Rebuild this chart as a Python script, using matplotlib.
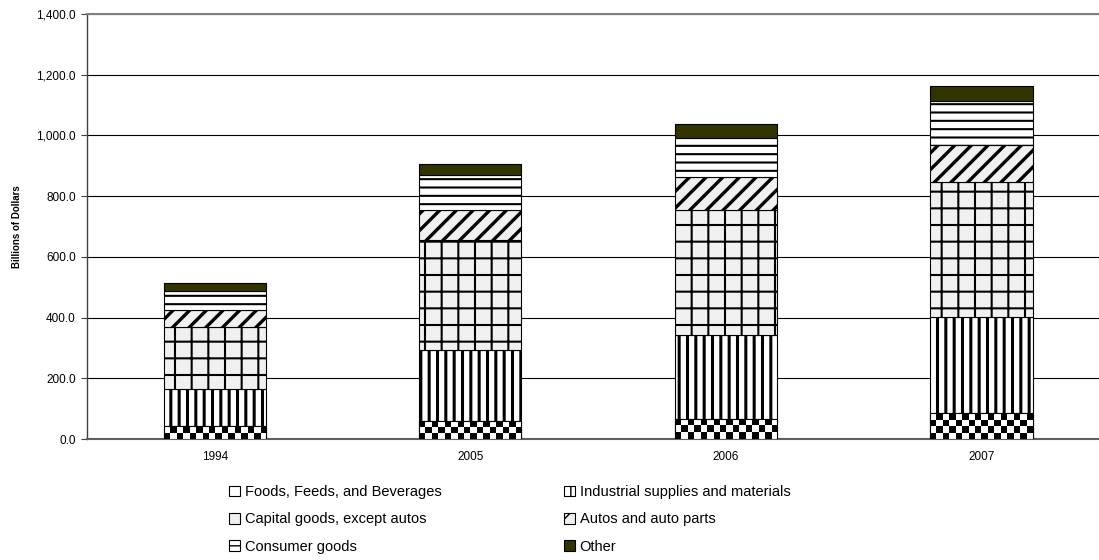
import numpy as np
import matplotlib
matplotlib.use("Agg")
import matplotlib.pyplot as plt
from matplotlib.ticker import FuncFormatter, MultipleLocator

plt.rcParams['font.family'] = ['Liberation Sans', 'DejaVu Sans']

# data (billions of dollars)
years = ["1994", "2005", "2006", "2007"]
foods = [42.0, 59.0, 66.0, 84.3]
industrial = [121.4, 233.0, 276.0, 316.4]
capital = [205.0, 362.9, 413.9, 447.0]
autos = [57.8, 98.4, 107.3, 121.3]
consumer = [60.0, 115.3, 129.1, 146.0]
other = [27.8, 38.4, 44.5, 48.0]

labels = ["Foods, Feeds, and Beverages", "Industrial supplies and materials",
          "Capital goods, except autos", "Autos and auto parts",
          "Consumer goods", "Other"]
series = [foods, industrial, capital, autos, consumer, other]

# style per series: facecolor, hatch, hatch linewidth
styles = [
    ("white", None, 1.0),
    ("white", "||", 2.2),
    ("#f0f0f0", "+", 1.5),
    ("#f0f0f0", "//", 2.4),
    ("white", "--", 1.5),
    ("#333300", None, 1.0),
]

W, H, DPI = 10.99, 5.60, 100
fig = plt.figure(figsize=(W, H), dpi=DPI)
ax = fig.add_axes([87 / 1099, 1 - 439 / 560, 1 - 87 / 1099, (439 - 14) / 560])

x = np.arange(len(years))
bw = 0.40
ax.set_xlim(-0.5, 3.46)
ax.set_ylim(0, 1400)

bottom = np.zeros(len(years))
handles = []
for vals, lab, (fc, hatch, hlw) in zip(series, labels, styles):
    with plt.rc_context({'hatch.linewidth': hlw}):
        bars = ax.bar(x, vals, bw, bottom=bottom, color=fc, edgecolor="black",
                      linewidth=0.8, hatch=hatch, label=lab, zorder=3)
        for b in bars:
            if hasattr(b, "set_hatch_linewidth"):
                b.set_hatch_linewidth(hlw)
    handles.append(bars)
    bottom = bottom + np.array(vals)

# checkerboard fill for the foods segment
cell = 6.5
for b in handles[0]:
    x0, y0 = b.get_x(), b.get_y()
    x1, y1 = x0 + b.get_width(), y0 + b.get_height()
    p0 = ax.transData.transform((x0, y0))
    p1 = ax.transData.transform((x1, y1))
    nx = max(1, int(round((p1[0] - p0[0]) / cell)))
    ny = max(1, int(round((p1[1] - p0[1]) / cell)))
    chk = (np.add.outer(np.arange(ny), np.arange(nx)) % 2).astype(float)
    im = ax.imshow(chk, cmap="gray", extent=(x0, x1, y0, y1), origin="lower",
                   interpolation="nearest", aspect="auto", zorder=3.5, vmin=0, vmax=1)
    im.set_clip_path(b)
    ax.bar(b.get_x() + b.get_width() / 2, b.get_height(), b.get_width(), bottom=y0,
           color="none", edgecolor="black", linewidth=0.8, zorder=4)

ax.set_xlim(-0.5, 3.46)
ax.set_ylim(0, 1400)

ax.yaxis.set_major_locator(MultipleLocator(200))
ax.yaxis.set_major_formatter(FuncFormatter(lambda v, p: f"{v:,.1f}"))
ax.set_xticks(x)
ax.set_xticklabels(years)
ax.tick_params(axis='x', length=0, labelsize=8.5, pad=9)
ax.tick_params(axis='y', length=4, width=0.8, labelsize=8.5, color="#404040", pad=4)
ax.grid(axis='y', color="black", linewidth=0.8, zorder=0)
ax.set_axisbelow(True)
ax.spines["right"].set_visible(False)
ax.spines["top"].set_color("#808080")
ax.spines["top"].set_linewidth(1.5)
ax.spines["left"].set_color("#404040")
ax.spines["left"].set_linewidth(1.0)
ax.spines["bottom"].set_color("#606060")
ax.spines["bottom"].set_linewidth(1.5)

ax.set_ylabel("Billions of Dollars", fontsize=7, fontweight="bold", labelpad=10)

order = [0, 2, 4, 1, 3, 5]
leg = fig.legend([handles[i] for i in order], [labels[i] for i in order],
                 ncol=2, loc="upper left", bbox_to_anchor=(229 / 1099, 1 - 485 / 560),
                 frameon=False, fontsize=10.5, handlelength=0.75, handleheight=0.75,
                 handletextpad=0.35, labelspacing=0.92, columnspacing=8.35,
                 borderaxespad=0, borderpad=0)

fig.savefig("out.png", dpi=DPI)
